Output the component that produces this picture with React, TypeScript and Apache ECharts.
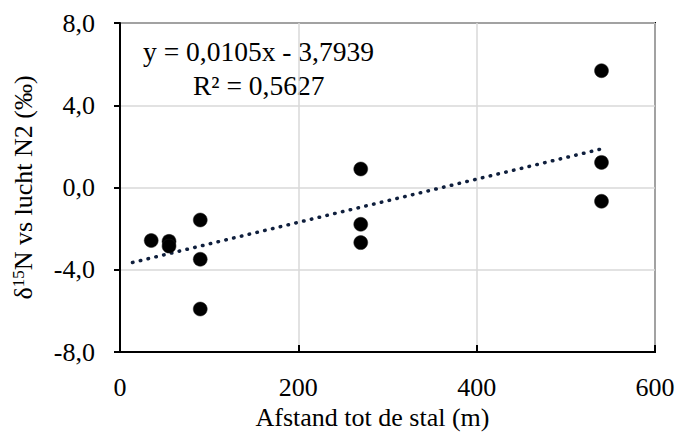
import React, { useEffect, useRef } from "react";
import * as echarts from "echarts";

const distance = [35, 55, 55, 90, 90, 90, 270, 270, 270, 540, 540, 540];
const delta15N = [-2.58, -2.62, -2.85, -1.58, -3.49, -5.91, 0.9, -1.79, -2.68, 5.68, 1.22, -0.67];
const trendSlope = 0.0105;
const trendIntercept = -3.7939;
const trendX = [14, 540];
const xTicks = [0, 200, 400, 600];
const yTicks = [-8, -4, 0, 4, 8];
const equationText = "y = 0,0105x - 3,7939";
const r2Text = "R² = 0,5627";

const FONT = "Times New Roman, Liberation Serif, serif";

export default function App() {
  const ref = useRef<HTMLDivElement>(null);
  useEffect(() => {
    if (!ref.current) return;
    const chart = echarts.init(ref.current, null, { renderer: "svg" });
    const points = distance.map((x, i) => [x, delta15N[i]]);
    const trend = trendX.map((x) => [x, trendSlope * x + trendIntercept]);
    chart.setOption({
      animation: false,
      backgroundColor: "#ffffff",
      textStyle: { fontFamily: FONT },
      grid: {
        left: 120,
        top: 23,
        right: 24,
        bottom: 90,
        show: true,
        borderColor: "#000",
        borderWidth: 2,
        containLabel: false,
      },
      xAxis: {
        type: "value",
        min: xTicks[0],
        max: xTicks[xTicks.length - 1],
        interval: 200,
        name: "Afstand tot de stal (m)",
        nameLocation: "middle",
        nameGap: 47,
        nameTextStyle: { fontFamily: FONT, fontSize: 26, color: "#000", padding: [0, 30, 0, 0] },
        axisLine: { show: true, onZero: false, lineStyle: { color: "#000", width: 2 } },
        axisTick: { show: true, inside: true, length: 7, lineStyle: { color: "#000", width: 2 } },
        axisLabel: { fontFamily: FONT, fontSize: 26, color: "#000", margin: 22 },
        splitLine: { show: true, lineStyle: { color: "#d9d9d9", width: 1.5 } },
      },
      yAxis: {
        type: "value",
        min: yTicks[0],
        max: yTicks[yTicks.length - 1],
        interval: 4,
        name: "{a|δ}{sup|15}{a|N vs lucht N2 (‰)}",
        nameLocation: "middle",
        nameRotate: 90,
        nameGap: 82,
        nameTextStyle: {
          fontFamily: FONT,
          fontSize: 26,
          color: "#000",
          rich: {
            a: { fontFamily: FONT, fontSize: 26, color: "#000", lineHeight: 30 },
            sup: { fontFamily: FONT, fontSize: 17, color: "#000", padding: [0, 0, 10, 0], lineHeight: 30 },
          },
        },
        axisLine: { show: true, onZero: false, lineStyle: { color: "#000", width: 2 } },
        axisTick: { show: true, inside: false, length: 6, lineStyle: { color: "#000", width: 2 } },
        axisLabel: {
          fontFamily: FONT,
          fontSize: 26,
          color: "#000",
          margin: 25,
          formatter: (v: number) => v.toFixed(1).replace(".", ","),
        },
        splitLine: { show: true, lineStyle: { color: "#d9d9d9", width: 1.5 } },
      },
      graphic: [
        {
          type: "text",
          left: 143,
          top: 37,
          style: { text: equationText, fontFamily: FONT, fontSize: 27.5, fill: "#000" },
        },
        {
          type: "text",
          left: 193,
          top: 71,
          style: { text: r2Text, fontFamily: FONT, fontSize: 27.5, fill: "#000" },
        },
      ],
      series: [
        {
          type: "line",
          data: trend,
          symbol: "none",
          lineStyle: { color: "#0f1f3d", width: 3.5, type: [0.5, 7.5], cap: "round" },
          z: 2,
        },
        {
          type: "scatter",
          data: points,
          symbol: "circle",
          symbolSize: 14,
          itemStyle: { color: "#000", opacity: 1, borderColor: "#222", borderWidth: 0.5 },
          z: 3,
        },
      ],
    });
    return () => chart.dispose();
  }, []);
  return <div ref={ref} style={{ width: 679, height: 442, position: "absolute", left: 0, top: 0 }} />;
}
